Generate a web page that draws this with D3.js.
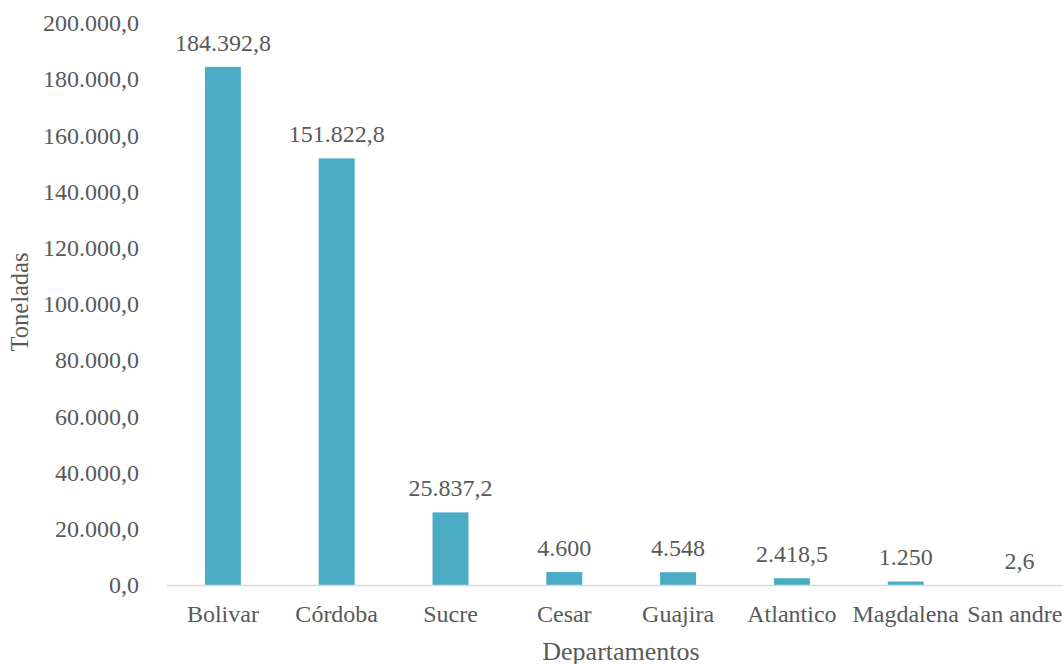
<!DOCTYPE html>
<html>
<head>
<meta charset="utf-8">
<script src="https://cdn.jsdelivr.net/npm/d3@7"></script>
<style>
  html, body { margin: 0; padding: 0; background: #fff; overflow: hidden; }
  svg { display: block; }
</style>
</head>
<body>
<svg id="chart" width="1063" height="664"></svg>
<script>
// Producción por departamento (toneladas)
const departamentos = ["Bolivar", "Córdoba", "Sucre", "Cesar", "Guajira", "Atlantico", "Magdalena", "San andres"];
const toneladas = [184392.8, 151822.8, 25837.2, 4600, 4548, 2418.5, 1250, 2.6];
const yTicks = [0, 20000, 40000, 60000, 80000, 100000, 120000, 140000, 160000, 180000, 200000];

const FONT = "'Liberation Serif', 'Times New Roman', serif";
const INK = "#595959";

const es = d3.formatLocale({ decimal: ",", thousands: ".", grouping: [3], currency: ["$", ""] });
const fmtTick = es.format(",.1f");
const fmtValue = v => Number.isInteger(v) ? es.format(",d")(v) : es.format(",.1f")(v);

const svg = d3.select("#chart");
const left = 166, step = 113.8;

const x = d3.scaleBand()
  .domain(departamentos)
  .range([left, left + step * departamentos.length])
  .padding(0);

const y = d3.scaleLinear().domain([0, 200000]).range([585, 23]);

const barW = x.bandwidth() * 0.316;

function styleText(sel, size) {
  sel.style("font-family", FONT).style("font-size", size + "px").style("fill", INK);
}

// Y axis labels (no axis line, no gridlines)
const yAxis = svg.append("g")
  .attr("transform", "translate(139,0)")
  .call(d3.axisLeft(y).tickValues(yTicks).tickFormat(fmtTick).tickSize(0).tickPadding(0));
yAxis.select(".domain").remove();
styleText(yAxis.selectAll("text"), 24);

// Bars
svg.append("g").selectAll("rect")
  .data(toneladas)
  .join("rect")
  .attr("x", (d, i) => x(departamentos[i]) + (x.bandwidth() - barW) / 2)
  .attr("width", barW)
  .attr("y", d => y(d))
  .attr("height", d => y(0) - y(d))
  .attr("fill", "#4BACC6");

// Baseline / category axis
const xAxis = svg.append("g")
  .attr("transform", `translate(0,${y(0)})`)
  .call(d3.axisBottom(x).tickSize(0).tickPadding(0).tickSizeOuter(0));
xAxis.select(".domain").attr("stroke", "#d9d9d9").attr("stroke-width", 1.5);
xAxis.selectAll("text").attr("dy", null).attr("y", 37);
styleText(xAxis.selectAll("text"), 24);

// Value labels above bars
const labels = svg.append("g").selectAll("text")
  .data(toneladas)
  .join("text")
  .attr("x", (d, i) => x(departamentos[i]) + x.bandwidth() / 2)
  .attr("y", d => y(d) - 16)
  .attr("text-anchor", "middle")
  .text(d => fmtValue(d));
styleText(labels, 24);

// Axis titles
styleText(svg.append("text")
  .attr("x", 621)
  .attr("y", 660)
  .attr("text-anchor", "middle")
  .text("Departamentos"), 26);

styleText(svg.append("text")
  .attr("transform", "translate(28,302) rotate(-90)")
  .attr("text-anchor", "middle")
  .text("Toneladas"), 24.5);
</script>
</body>
</html>
